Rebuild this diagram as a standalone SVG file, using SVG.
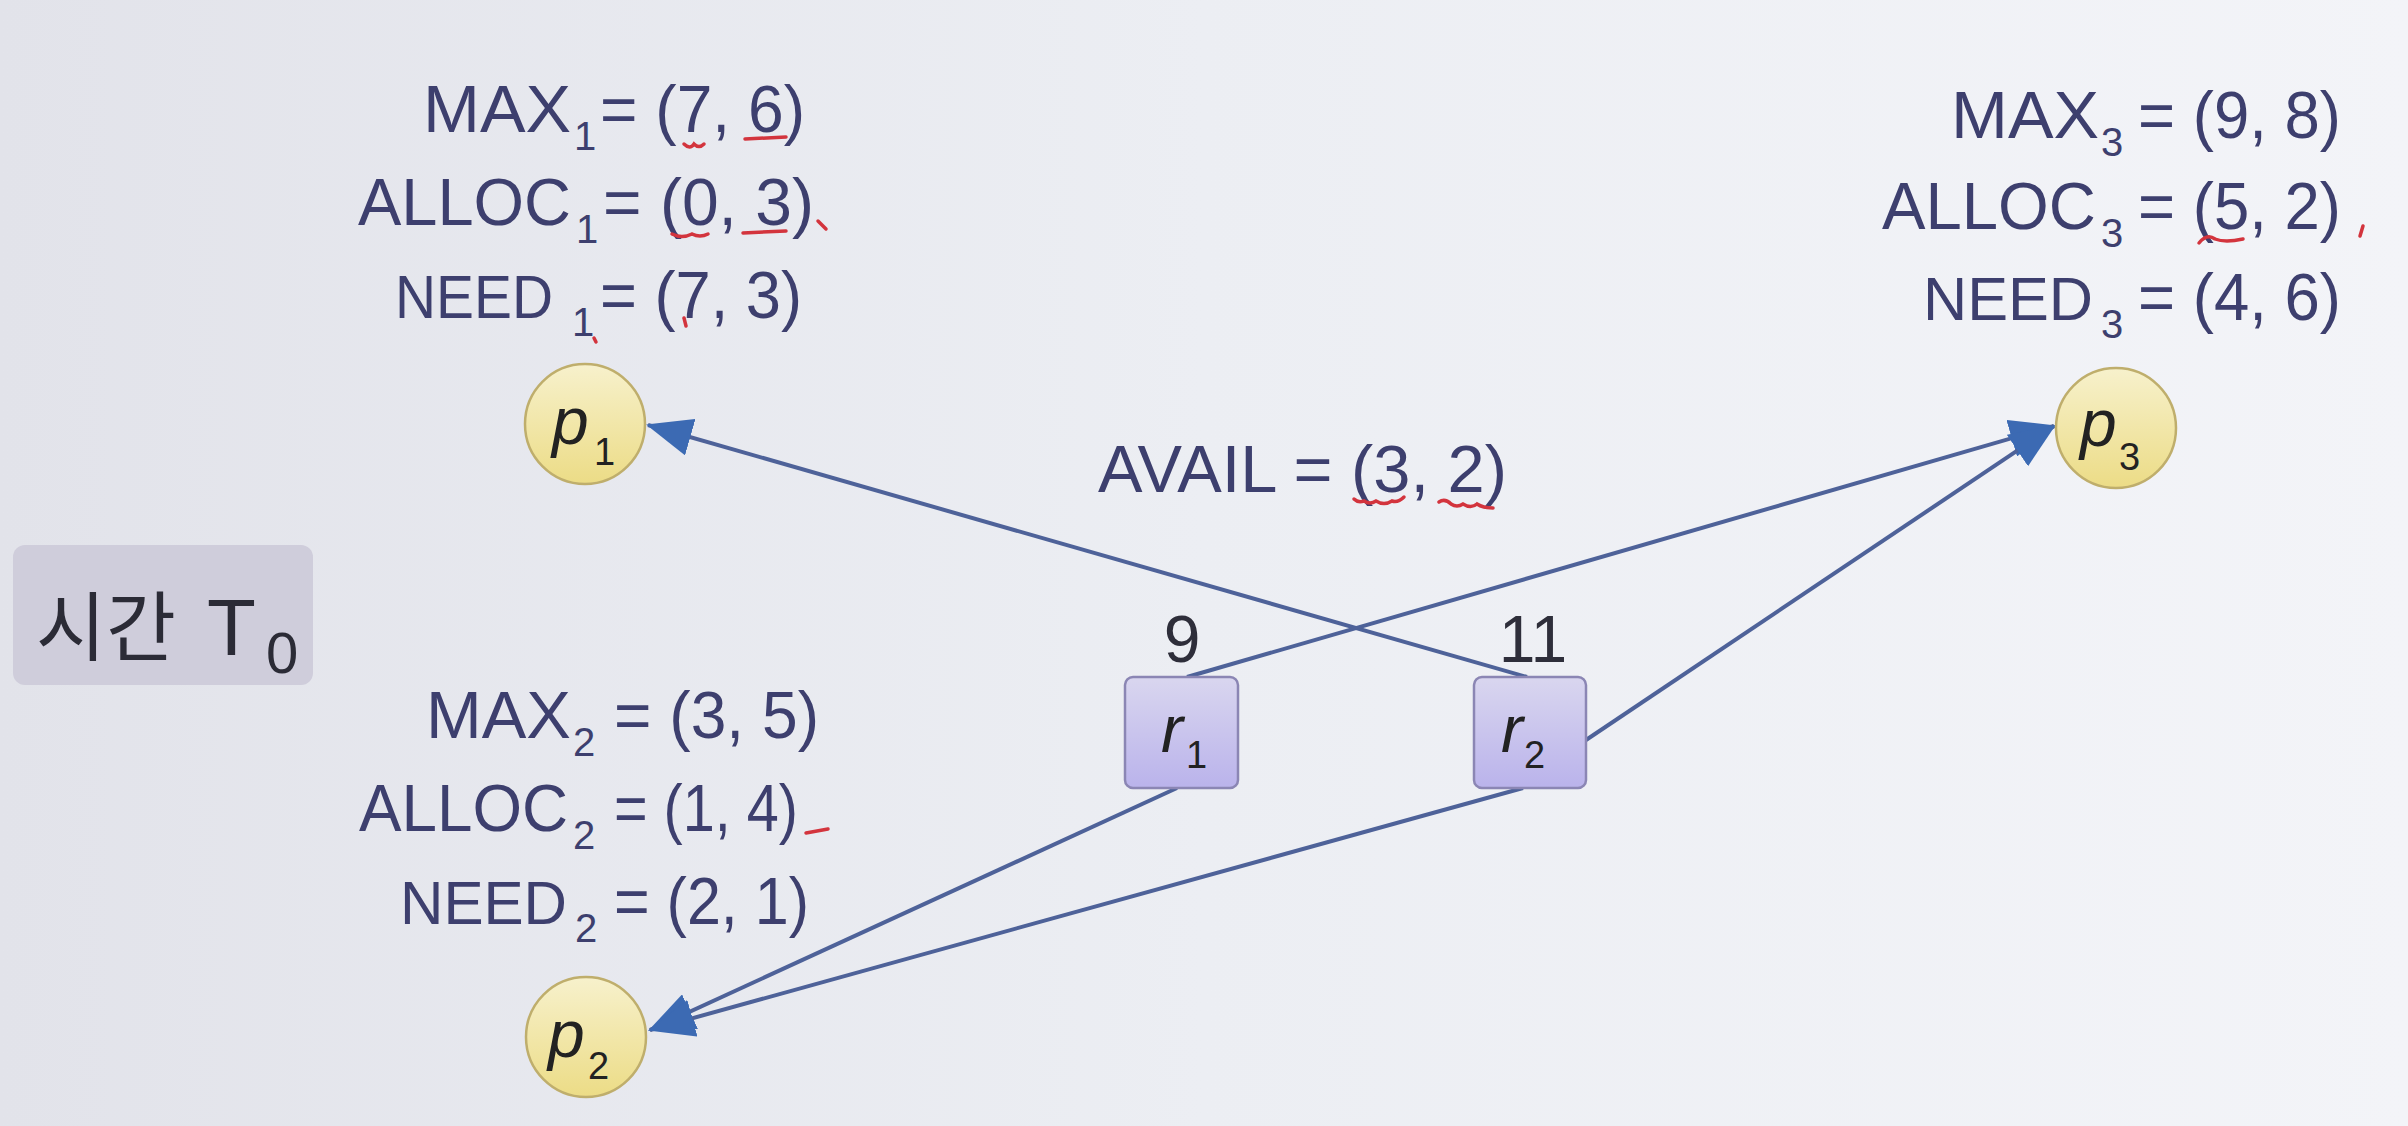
<svg xmlns="http://www.w3.org/2000/svg" width="2408" height="1126" viewBox="0 0 2408 1126">
<defs>
  <linearGradient id="bg" x1="0" y1="0" x2="1" y2="0">
    <stop offset="0" stop-color="#e2e3ea"/>
    <stop offset="0.5" stop-color="#eceef3"/>
    <stop offset="1" stop-color="#f3f4f8"/>
  </linearGradient>
  <linearGradient id="pfill" x1="0" y1="0" x2="0" y2="1">
    <stop offset="0" stop-color="#f7f1cc"/>
    <stop offset="1" stop-color="#ecdc86"/>
  </linearGradient>
  <linearGradient id="rfill" x1="0" y1="0" x2="0" y2="1">
    <stop offset="0" stop-color="#d9d6ef"/>
    <stop offset="1" stop-color="#bab3eb"/>
  </linearGradient>
  <marker id="arr" markerUnits="userSpaceOnUse" viewBox="0 0 46 38" refX="44" refY="19" markerWidth="46" markerHeight="38" orient="auto">
    <path d="M0,0 L46,19 L0,38 Z" fill="#3c6ab3"/>
  </marker>
  <style>
    .t { font-family: "Liberation Sans", Arial, sans-serif; font-size: 66px; fill: #3d3f6e; }
    .sub { font-size: 40px; }
    .nd { font-size: 62px; }
    .lbl { font-family: "Liberation Sans", Arial, sans-serif; font-size: 66px; fill: #2e2e3a; }
    .pn { font-family: "Liberation Sans", Arial, sans-serif; font-size: 66px; font-style: italic; fill: #222; }
    .ps { font-family: "Liberation Sans", Arial, sans-serif; font-size: 38px; fill: #222; }
    .proc { fill: url(#pfill); stroke: #bfae6c; stroke-width: 2.5; }
    .res { fill: url(#rfill); stroke: #8b86b4; stroke-width: 2.5; }
    .edge { stroke: #4e6299; stroke-width: 4; fill: none; marker-end: url(#arr); }
    .red { stroke: #d3343d; stroke-width: 3.5; fill: none; stroke-linecap: round; }
  </style>
</defs>
<rect x="0" y="0" width="2408" height="1126" fill="url(#bg)"/>

<g id="time-label">
  <rect x="13" y="545" width="300" height="140" rx="12" fill="#cfcddb"/>
  <text x="36" y="655" font-family="'Noto Sans CJK KR', 'Liberation Sans', sans-serif" font-size="76" fill="#2b2b36">시간 <tspan x="207" font-family="'Liberation Sans', sans-serif" font-size="80">T</tspan><tspan x="266" y="673" font-family="'Liberation Sans', sans-serif" font-size="58">0</tspan></text>
</g>

<g id="p1-info">
  <text class="t" x="423" y="132"><tspan textLength="148" lengthAdjust="spacingAndGlyphs">MAX</tspan><tspan class="sub" x="574" y="150">1</tspan><tspan x="600" y="132" textLength="205" lengthAdjust="spacingAndGlyphs">= (7, 6)</tspan></text>
  <text class="t" x="358" y="225"><tspan textLength="213" lengthAdjust="spacingAndGlyphs">ALLOC</tspan><tspan class="sub" x="576" y="243">1</tspan><tspan x="603" y="225" textLength="211" lengthAdjust="spacingAndGlyphs">= (0, 3)</tspan></text>
  <text class="t" x="395" y="318"><tspan class="nd" textLength="158" lengthAdjust="spacingAndGlyphs">NEED</tspan><tspan class="sub" x="572" y="336">1</tspan><tspan x="600" y="318" textLength="202" lengthAdjust="spacingAndGlyphs">= (7, 3)</tspan></text>
</g>

<g id="p3-info">
  <text class="t" x="1951" y="138"><tspan textLength="148" lengthAdjust="spacingAndGlyphs">MAX</tspan><tspan class="sub" x="2101" y="156">3</tspan><tspan x="2138" y="138" textLength="203" lengthAdjust="spacingAndGlyphs">= (9, 8)</tspan></text>
  <text class="t" x="1882" y="229"><tspan textLength="214" lengthAdjust="spacingAndGlyphs">ALLOC</tspan><tspan class="sub" x="2101" y="247">3</tspan><tspan x="2138" y="229" textLength="203" lengthAdjust="spacingAndGlyphs">= (5, 2)</tspan></text>
  <text class="t" x="1923" y="320"><tspan class="nd" textLength="170" lengthAdjust="spacingAndGlyphs">NEED</tspan><tspan class="sub" x="2101" y="338">3</tspan><tspan x="2138" y="320" textLength="203" lengthAdjust="spacingAndGlyphs">= (4, 6)</tspan></text>
</g>

<g id="p2-info">
  <text class="t" x="426" y="738"><tspan textLength="145" lengthAdjust="spacingAndGlyphs">MAX</tspan><tspan class="sub" x="573" y="756">2</tspan><tspan x="614" y="738" textLength="205" lengthAdjust="spacingAndGlyphs">= (3, 5)</tspan></text>
  <text class="t" x="359" y="831"><tspan textLength="209" lengthAdjust="spacingAndGlyphs">ALLOC</tspan><tspan class="sub" x="573" y="849">2</tspan><tspan x="614" y="831" textLength="184" lengthAdjust="spacingAndGlyphs">= (1, 4)</tspan></text>
  <text class="t" x="400" y="924"><tspan class="nd" textLength="167" lengthAdjust="spacingAndGlyphs">NEED</tspan><tspan class="sub" x="575" y="942">2</tspan><tspan x="614" y="924" textLength="195" lengthAdjust="spacingAndGlyphs">= (2, 1)</tspan></text>
</g>

<g id="avail">
  <text class="t" x="1098" y="492" textLength="409" lengthAdjust="spacingAndGlyphs">AVAIL = (3, 2)</text>
</g>

<g id="annotations">
  <path class="red" d="M684,144 q6,6 10,0 q5,5 10,0"/>
  <path class="red" d="M745,139 L786,137"/>
  <path class="red" d="M672,234 q10,5 20,0 q8,4 16,0"/>
  <path class="red" d="M743,233 L786,231"/>
  <path class="red" d="M818,221 L826,229"/>
  <path class="red" d="M594,338 L596,342"/>
  <path class="red" d="M684,318 L686,326"/>
  <path class="red" d="M2199,243 q8,-10 16,-4 q10,4 28,0"/>
  <path class="red" d="M2363,226 L2360,236"/>
  <path class="red" d="M806,833 L828,829"/>
  <path class="red" d="M1354,499 q4,4 10,2 q6,4 12,0 q8,5 16,0 q6,2 12,-4"/>
  <path class="red" d="M1439,502 q6,-4 12,2 q6,4 12,0 q8,5 14,0 q6,4 16,4"/>
</g>

<g id="connectors">
  <path class="edge" d="M1527,677 L648,425"/>
  <path class="edge" d="M1187,677 L2054,426"/>
  <path class="edge" d="M1586,740 L2054,426"/>
  <path class="edge" d="M1177,788 L650,1030"/>
  <path class="edge" d="M1523,788 L650,1030"/>
</g>

<g id="p1">
  <circle class="proc" cx="585" cy="424" r="60"/>
  <text class="pn" x="552" y="444">p</text><text class="ps" x="594" y="465">1</text>
</g>
<g id="p2">
  <circle class="proc" cx="586" cy="1037" r="60"/>
  <text class="pn" x="548" y="1057">p</text><text class="ps" x="588" y="1079">2</text>
</g>
<g id="p3">
  <circle class="proc" cx="2116" cy="428" r="60"/>
  <text class="pn" x="2080" y="446">p</text><text class="ps" x="2119" y="470">3</text>
</g>

<g id="r1">
  <rect class="res" x="1125" y="677" width="113" height="111" rx="8"/>
  <text class="pn" x="1161" y="752">r</text><text class="ps" x="1186" y="768">1</text>
  <text class="lbl" x="1182" y="662" text-anchor="middle">9</text>
</g>
<g id="r2">
  <rect class="res" x="1474" y="677" width="112" height="111" rx="8"/>
  <text class="pn" x="1501" y="752">r</text><text class="ps" x="1524" y="768">2</text>
  <text class="lbl" x="1533" y="662" text-anchor="middle">11</text>
</g>
</svg>
